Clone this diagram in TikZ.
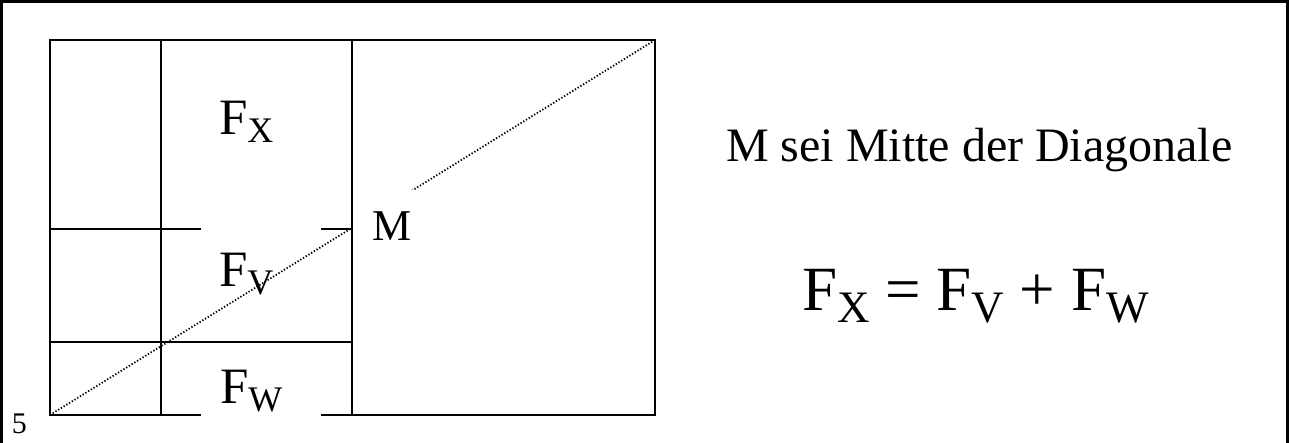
\documentclass[tikz,border=0pt]{standalone}
\usepackage{fontspec}
\setmainfont{Liberation Serif}
\newcommand{\myF}[4]{{\fontsize{#1}{#1}\selectfont F\raisebox{-#3pt}{\fontsize{#2}{#2}\selectfont #4}}}
\begin{document}
\begin{tikzpicture}[x=1pt,y=-1pt,
  frameline/.style={line width=2pt, line cap=rect},
  diagline/.style={line width=1.8pt, dash pattern=on 1.3pt off 1.9pt},
  lbl/.style={anchor=base west, inner sep=0pt, outer sep=0pt}]
\useasboundingbox (0,0) rectangle (1289,443);
% outer border
\draw[line width=3pt] (1.5,443) -- (1.5,1.5) -- (1287.5,1.5) -- (1287.5,443);
% key points
\coordinate (A) at (50,415);
\coordinate (B) at (655,40);
\coordinate (TL) at (50,40);
\coordinate (BR) at (655,415);
% rectangle with gap in bottom edge
\draw[frameline] (200,415) -- (A) -- (TL) -- (B) -- (BR) -- (322,415);
% verticals
\draw[frameline] (161,40) -- (161,415);
\draw[frameline] (352,40) -- (352,415);
% horizontals
\draw[frameline] (50,342) -- (352,342);
\draw[frameline] (50,229) -- (200,229);
\draw[frameline] (322,229) -- (352,229);
% diagonal
\draw[diagline] (A) -- (B);
% white box behind M
\fill[white] (353,190) rectangle (414,315);
% labels
\node[lbl] (M) at (372,241) {\fontsize{44}{44}\selectfont M};
\node[lbl] (fx) at (219,135) {\myF{51}{36}{8}{X}};
\node[lbl] (fv) at (219,287) {\myF{51}{36}{8}{V}};
\node[lbl] (fw) at (220,403) {\myF{51}{36}{8}{W}};
\node[lbl] (five) at (12,433) {\fontsize{30}{30}\selectfont 5};
\node[lbl] (txt) at (726,162) {\fontsize{48}{48}\selectfont M sei Mitte der Diagonale};
\node[lbl] (eq) at (802,310) {\fontsize{63}{63}\selectfont\myF{63}{45}{12}{X} = \myF{63}{45}{12}{V} + \myF{63}{45}{12}{W}};
\end{tikzpicture}
\end{document}
